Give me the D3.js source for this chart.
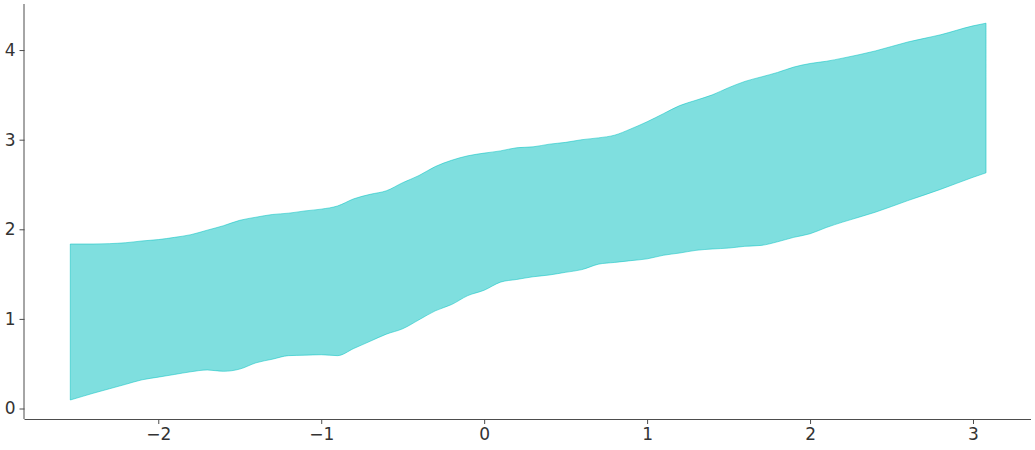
<!DOCTYPE html>
<html>
<head>
<meta charset="utf-8">
<script src="https://cdn.jsdelivr.net/npm/d3@7"></script>
<style>
  body { margin: 0; background: #fff; }
  svg { display: block; }
  .tick text { font-family: "DejaVu Sans", sans-serif; font-size: 17px; fill: #333333; }
</style>
</head>
<body>
<div id="chart"></div>
<script>
// band sample positions and the lower / upper edges
var xs = [-2.54, -2.4, -2.3, -2.2, -2.1, -2.0, -1.9, -1.8, -1.7, -1.6, -1.5, -1.4, -1.3, -1.2, -1.1, -1.0,
  -0.9, -0.8, -0.7, -0.6, -0.5, -0.4, -0.3, -0.2, -0.1, 0.0, 0.1, 0.2, 0.3, 0.4, 0.5, 0.6, 0.7, 0.8, 0.9,
  1.0, 1.1, 1.2, 1.3, 1.4, 1.5, 1.6, 1.7, 1.8, 1.9, 2.0, 2.1, 2.2, 2.4, 2.6, 2.8, 3.0, 3.08];
var upper = [1.836, 1.836, 1.84, 1.85, 1.87, 1.885, 1.91, 1.94, 1.99, 2.04, 2.10, 2.135, 2.165, 2.18, 2.205, 2.225,
  2.26, 2.34, 2.39, 2.43, 2.52, 2.60, 2.70, 2.77, 2.82, 2.85, 2.875, 2.91, 2.92, 2.95, 2.97, 3.00, 3.02, 3.05, 3.12,
  3.20, 3.29, 3.38, 3.44, 3.50, 3.58, 3.65, 3.70, 3.75, 3.81, 3.85, 3.875, 3.91, 3.99, 4.09, 4.17, 4.27, 4.30];
var lower = [0.095, 0.17, 0.22, 0.27, 0.32, 0.35, 0.38, 0.41, 0.43, 0.415, 0.44, 0.51, 0.55, 0.59, 0.595, 0.60,
  0.59, 0.67, 0.75, 0.83, 0.89, 0.99, 1.09, 1.16, 1.26, 1.32, 1.41, 1.44, 1.47, 1.49, 1.52, 1.55, 1.61, 1.63, 1.65,
  1.67, 1.71, 1.735, 1.765, 1.78, 1.79, 1.81, 1.82, 1.86, 1.91, 1.95, 2.02, 2.08, 2.19, 2.32, 2.445, 2.58, 2.63];
var xTicks = [-2, -1, 0, 1, 2, 3];
var yTicks = [0, 1, 2, 3, 4];

var width = 1035, height = 450;
var mLeft = 24.5, mRight = 1031, mTop = 4, mBottom = 419;

var svg = d3.select('#chart').append('svg')
    .attr('width', width)
    .attr('height', height);

var x = d3.scaleLinear().domain([-2.821, 3.356]).range([mLeft, mRight]);
var y = d3.scaleLinear().domain([-0.117, 4.514]).range([mBottom, mTop]);

var rows = xs.map(function(v, i) {
    return { x: v, lo: lower[i], hi: upper[i] };
});

var area = d3.area()
    .x(function(d) { return x(d.x); })
    .y0(function(d) { return y(d.lo); })
    .y1(function(d) { return y(d.hi); })
    .curve(d3.curveMonotoneX);

svg.append('path')
    .datum(rows)
    .attr('d', area)
    .attr('fill', '#00c0bf')
    .attr('fill-opacity', 0.5)
    .attr('stroke', '#00c0bf')
    .attr('stroke-opacity', 0.5)
    .attr('stroke-width', 1);

var minus = function(d) { return d < 0 ? '\u2212' + Math.abs(d) : String(d); };

var xAxis = svg.append('g')
    .attr('transform', 'translate(0,' + mBottom + ')')
    .call(d3.axisBottom(x).tickValues(xTicks).tickSize(5).tickPadding(4).tickFormat(minus));

var yAxis = svg.append('g')
    .attr('transform', 'translate(' + mLeft + ',0)')
    .call(d3.axisLeft(y).tickValues(yTicks).tickSize(5).tickPadding(4).tickFormat(minus));

xAxis.select('.domain').attr('d', 'M' + mLeft + ',0.5H' + mRight).attr('stroke', '#4d4d4d');
yAxis.select('.domain').attr('d', 'M-0.5,' + mTop + 'V' + mBottom).attr('stroke', '#4d4d4d');
svg.selectAll('.tick line').attr('stroke', '#4d4d4d');
</script>
</body>
</html>
